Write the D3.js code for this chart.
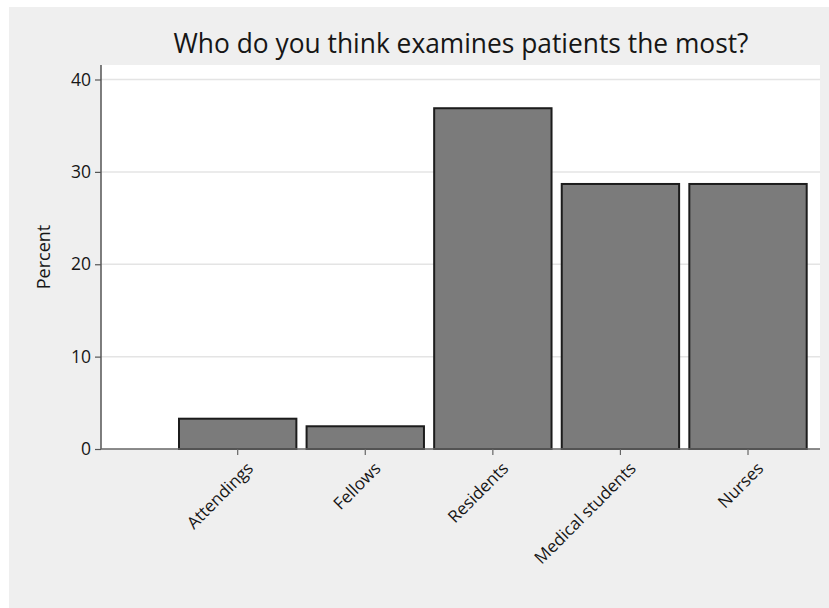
<!DOCTYPE html>
<html>
<head>
<meta charset="utf-8">
<script src="https://cdn.jsdelivr.net/npm/d3@7"></script>
<style>
  body { margin: 0; background: #fff; }
  svg { display: block; }
  text { font-family: "Open Sans", "Noto Sans", sans-serif; fill: #161616; }
</style>
</head>
<body>
<svg id="chart" width="829" height="608"></svg>
<script>
// categories and percentages
var categories = ['Attendings', 'Fellows', 'Residents', 'Medical students', 'Nurses'];
var percents = [3.28, 2.46, 36.89, 28.69, 28.69];
var yTicks = [0, 10, 20, 30, 40];
var title = 'Who do you think examines patients the most?';
var yLabel = 'Percent';

var svg = d3.select('#chart');

// outer panel
svg.append('rect')
    .attr('x', 9).attr('y', 7)
    .attr('width', 820).attr('height', 601)
    .attr('fill', '#efefef');

var plot = {left: 101, right: 820, top: 65, bottom: 449};

svg.append('rect')
    .attr('x', plot.left).attr('y', plot.top)
    .attr('width', plot.right - plot.left).attr('height', plot.bottom - plot.top)
    .attr('fill', '#ffffff');

var y = d3.scaleLinear().domain([0, 40]).range([449, 79.5]);

var x = d3.scaleBand()
    .domain(categories)
    .range([179, 806.7])
    .paddingInner(0.08)
    .paddingOuter(0);

// grid
svg.append('g').selectAll('line')
    .data(yTicks.filter(function(d){ return d > 0; }))
    .enter().append('line')
    .attr('x1', plot.left).attr('x2', plot.right)
    .attr('y1', function(d){ return y(d); })
    .attr('y2', function(d){ return y(d); })
    .attr('stroke', '#e4e4e4')
    .attr('stroke-width', 1.5);

// bars
svg.append('g').selectAll('rect')
    .data(percents)
    .enter().append('rect')
    .attr('x', function(d, i){ return x(categories[i]); })
    .attr('y', function(d){ return y(d); })
    .attr('width', x.bandwidth())
    .attr('height', function(d){ return y(0) - y(d); })
    .attr('fill', '#7b7b7b')
    .attr('stroke', '#1c1c1c')
    .attr('stroke-width', 2);

// y axis
var yAxis = svg.append('g')
    .attr('transform', 'translate(' + plot.left + ',0)')
    .call(d3.axisLeft(y).tickValues(yTicks).tickSize(6).tickPadding(4));
yAxis.select('.domain').attr('d', 'M0,' + plot.top + 'V' + plot.bottom)
    .attr('stroke', '#555').attr('stroke-width', 1.5);
yAxis.selectAll('.tick line').attr('stroke', '#555').attr('stroke-width', 1.2);
yAxis.selectAll('.tick text')
    .style('font-size', '17.5px')
    .attr('fill', '#161616');

// x axis
var xAxis = svg.append('g')
    .attr('transform', 'translate(0,' + plot.bottom + ')')
    .call(d3.axisBottom(x).tickSize(6).tickSizeOuter(0));
xAxis.select('.domain').attr('d', 'M' + plot.left + ',0H' + plot.right)
    .attr('stroke', '#666').attr('stroke-width', 1.5);
xAxis.selectAll('.tick line').attr('stroke', '#666').attr('stroke-width', 1.2);
xAxis.selectAll('.tick text')
    .style('font-size', '17px')
    .attr('fill', '#161616')
    .attr('text-anchor', 'end')
    .attr('dy', '0.35em')
    .attr('transform', 'translate(6,10) rotate(-45)');

// y label
svg.append('text')
    .attr('transform', 'translate(50,257) rotate(-90)')
    .attr('text-anchor', 'middle')
    .style('font-size', '18px')
    .text(yLabel);

// title
svg.append('text')
    .attr('x', 461).attr('y', 53)
    .attr('text-anchor', 'middle')
    .attr('textLength', 575)
    .attr('lengthAdjust', 'spacingAndGlyphs')
    .style('font-size', '27px')
    .text(title);
</script>
</body>
</html>
